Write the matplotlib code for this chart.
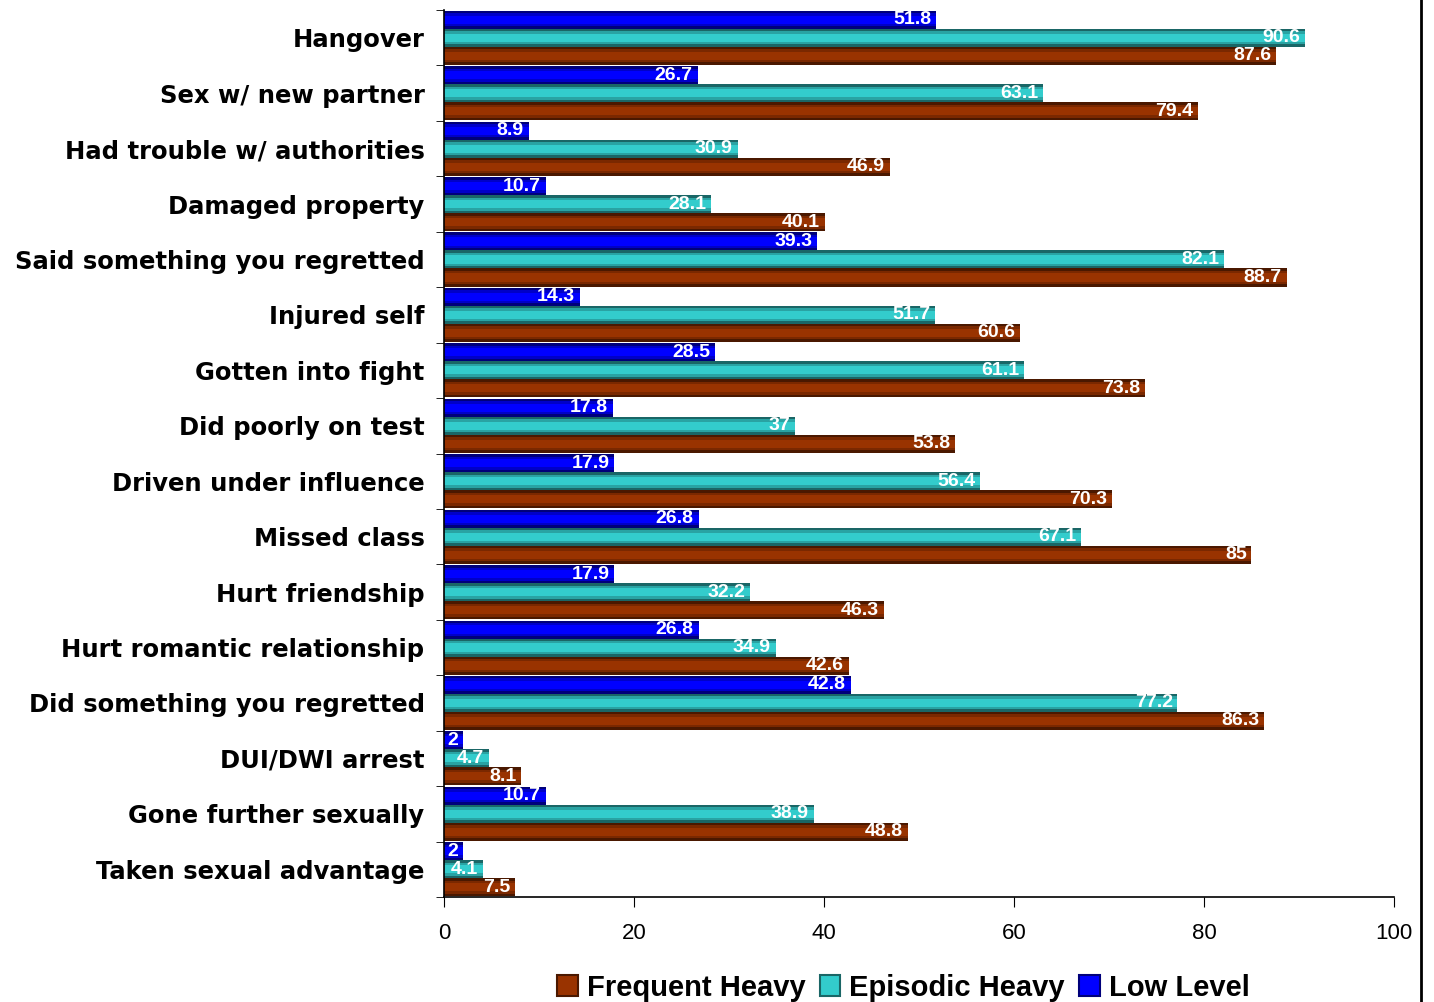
import numpy as np
import matplotlib.pyplot as plt
from matplotlib.patches import Patch
from matplotlib.lines import Line2D

categories = ["Hangover", "Sex w/ new partner", "Had trouble w/ authorities",
              "Damaged property", "Said something you regretted", "Injured self",
              "Gotten into fight", "Did poorly on test", "Driven under influence",
              "Missed class", "Hurt friendship", "Hurt romantic relationship",
              "Did something you regretted", "DUI/DWI arrest",
              "Gone further sexually", "Taken sexual advantage"]
low_level = [51.8, 26.7, 8.9, 10.7, 39.3, 14.3, 28.5, 17.8, 17.9, 26.8, 17.9, 26.8, 42.8, 2, 10.7, 2]
episodic = [90.6, 63.1, 30.9, 28.1, 82.1, 51.7, 61.1, 37, 56.4, 67.1, 32.2, 34.9, 77.2, 4.7, 38.9, 4.1]
frequent = [87.6, 79.4, 46.9, 40.1, 88.7, 60.6, 73.8, 53.8, 70.3, 85, 46.3, 42.6, 86.3, 8.1, 48.8, 7.5]
series_names = ["Frequent Heavy", "Episodic Heavy", "Low Level"]

# (dark edge, mid, bright centre)
shades = {
    "Low Level": ("#00007a", "#0000c8", "#0000ff"),
    "Episodic Heavy": ("#1a6666", "#29a3a3", "#33cccc"),
    "Frequent Heavy": ("#4a1800", "#7a2800", "#993300"),
}

fig = plt.figure(figsize=(14.34, 10.02), dpi=100)
ax = fig.add_axes([0.3096, 0.1048, 0.6625, 0.8852])

y = np.arange(len(categories))
h = 0.325
offsets = {"Low Level": -h, "Episodic Heavy": 0, "Frequent Heavy": h}
values = {"Low Level": low_level, "Episodic Heavy": episodic, "Frequent Heavy": frequent}

for name in ["Low Level", "Episodic Heavy", "Frequent Heavy"]:
    pos = y + offsets[name]
    vals = values[name]
    dark, mid, bright = shades[name]
    # fake cylinder shading with stacked bars
    ax.barh(pos, vals, height=h, color=dark, linewidth=0)
    ax.barh(pos, vals, height=h * 0.72, color=mid, linewidth=0)
    ax.barh(pos, vals, height=h * 0.45, color=bright, linewidth=0)
    for p, v in zip(pos, vals):
        ax.text(v - 0.5, p, f"{v:g}", ha="right", va="center", color="white",
                fontsize=14, fontweight="bold", family="Liberation Sans")

ax.set_xlim(0, 100)
ax.set_ylim(len(categories) - 0.5, -0.5)
ax.set_xticks([0, 20, 40, 60, 80, 100])
ax.tick_params(axis="x", direction="out", length=7, labelsize=16, pad=12)
for lbl in ax.get_xticklabels():
    lbl.set_family("Liberation Sans")

ax.set_yticks(y)
ax.set_yticklabels(categories, fontsize=17.5, fontweight="bold")
ax.tick_params(axis="y", length=0, pad=14)
ax.set_yticks(np.arange(len(categories) + 1) - 0.5, minor=True)
ax.tick_params(axis="y", which="minor", length=6, direction="out")

ax.spines["top"].set_visible(False)
ax.spines["right"].set_visible(False)
ax.spines["left"].set_linewidth(1.2)
ax.spines["bottom"].set_linewidth(1.2)

handles = [Patch(facecolor=shades[n][2], edgecolor=shades[n][0], linewidth=1.5) for n in series_names]
fig.legend(handles, series_names, loc="lower center", bbox_to_anchor=(0.63, -0.026),
           ncol=3, frameon=False, handlelength=0.7, handleheight=0.7,
           handletextpad=0.3, columnspacing=0.5,
           prop={"family": "Liberation Sans", "weight": "bold", "size": 21})

# right border of chart area
fig.add_artist(Line2D([0.991, 0.991], [0, 1], color="black", linewidth=2))

fig.savefig("out.png", dpi=100)
